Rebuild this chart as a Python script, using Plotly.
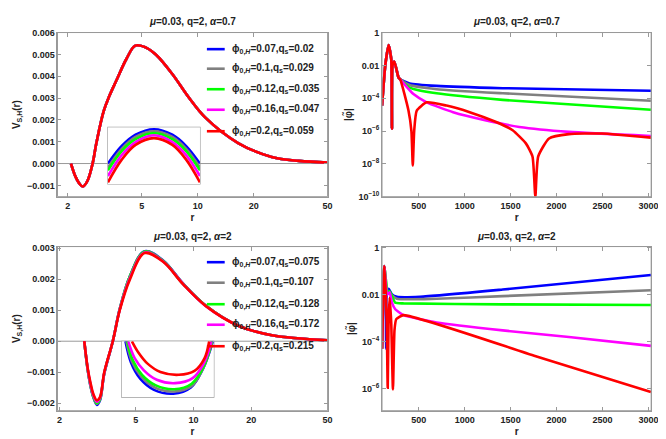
import numpy as np
import plotly.graph_objects as go

colors = ["#0000ff", "#808080", "#00ff00", "#ff00ff", "#ff0000"]
labels_top = ["ϕ<sub>0,<i>H</i></sub>=0.07,q<sub>s</sub>=0.02", "ϕ<sub>0,<i>H</i></sub>=0.1,q<sub>s</sub>=0.029",
              "ϕ<sub>0,<i>H</i></sub>=0.12,q<sub>s</sub>=0.035", "ϕ<sub>0,<i>H</i></sub>=0.16,q<sub>s</sub>=0.047",
              "ϕ<sub>0,<i>H</i></sub>=0.2,q<sub>s</sub>=0.059"]
labels_bot = ["ϕ<sub>0,<i>H</i></sub>=0.07,q<sub>s</sub>=0.075", "ϕ<sub>0,<i>H</i></sub>=0.1,q<sub>s</sub>=0.107",
              "ϕ<sub>0,<i>H</i></sub>=0.12,q<sub>s</sub>=0.128", "ϕ<sub>0,<i>H</i></sub>=0.16,q<sub>s</sub>=0.172",
              "ϕ<sub>0,<i>H</i></sub>=0.2,q<sub>s</sub>=0.215"]

# top-left potential (all five nearly identical)
r_tl = [2.08, 2.2, 2.3, 2.41, 2.55, 2.72, 2.85, 3.12, 3.35, 3.65, 4.14, 4.62, 5.3, 5.97, 7.3, 9.0, 11.0, 16.5, 25, 35, 50]
v_tl = [0, -0.0006, -0.0009, -0.00105, -0.0008, 0, 0.00094, 0.0024, 0.0031, 0.0038, 0.0048, 0.0054, 0.0053,
        0.00498, 0.0041, 0.0030, 0.0021, 0.00094, 0.0003, 0.00012, 0.00005]
# top-left inset (zoomed arches, normalised box units)
ins_tl_x = [0, 0.15, 0.3, 0.5, 0.7, 0.85, 1.0]
ins_tl_y = [
    [0.36, 0.67, 0.87, 0.966, 0.87, 0.67, 0.36],
    [0.29, 0.62, 0.83, 0.93, 0.83, 0.62, 0.29],
    [0.24, 0.58, 0.79, 0.90, 0.79, 0.58, 0.24],
    [0.14, 0.51, 0.74, 0.86, 0.74, 0.51, 0.14],
    [0.03, 0.43, 0.69, 0.81, 0.69, 0.43, 0.03],
]

# bottom-left potential
r_bl = [2.69, 2.8, 2.89, 3.0, 3.13, 3.25, 3.42, 3.79, 4.12, 4.66, 5.55, 6.94, 8.8, 11.6, 17.1, 25.6, 50]
v_bl = [
    [0, -0.0009, -0.0014, -0.0018, -0.00205, -0.0019, -0.00105, 0, 0.00104, 0.0021, 0.0029, 0.0026, 0.00186, 0.00114, 0.0005, 0.00019, 0.00003],
    [0, -0.0009, -0.0014, -0.0018, -0.00202, -0.00188, -0.00104, 0, 0.00104, 0.0021, 0.00289, 0.00259, 0.00186, 0.00114, 0.0005, 0.00019, 0.00003],
    [0, -0.0009, -0.00138, -0.00178, -0.002, -0.00186, -0.00103, 0, 0.00103, 0.0021, 0.00288, 0.00258, 0.00185, 0.00114, 0.0005, 0.00019, 0.00003],
    [0, -0.00087, -0.00135, -0.00174, -0.00195, -0.00183, -0.00102, 0, 0.00102, 0.00205, 0.00286, 0.00257, 0.00185, 0.00113, 0.0005, 0.00019, 0.00003],
    [0, -0.00085, -0.0013, -0.0017, -0.0019, -0.0018, -0.001, 0, 0.001, 0.0020, 0.00284, 0.00256, 0.00184, 0.00113, 0.0005, 0.00019, 0.00003],
]
ins_bl = [
    ([0.04, 0.1, 0.2, 0.35, 0.56, 0.75, 0.88, 0.99], [1, 0.62, 0.33, 0.13, 0.06, 0.17, 0.5, 1]),
    ([0.05, 0.11, 0.21, 0.36, 0.57, 0.76, 0.885, 0.985], [1, 0.64, 0.37, 0.17, 0.10, 0.2, 0.52, 1]),
    ([0.06, 0.12, 0.22, 0.37, 0.57, 0.76, 0.89, 0.98], [1, 0.66, 0.4, 0.21, 0.14, 0.24, 0.55, 1]),
    ([0.07, 0.14, 0.24, 0.38, 0.58, 0.77, 0.89, 0.975], [1, 0.7, 0.48, 0.31, 0.25, 0.34, 0.6, 1]),
    ([0.11, 0.18, 0.28, 0.42, 0.62, 0.79, 0.9, 0.95], [1, 0.8, 0.6, 0.45, 0.4, 0.47, 0.7, 1]),
]

# top-right |phi| (log10 values)
head_r = [100, 136, 172, 200, 208, 214, 234, 280, 298]
head_l = [-4.45, -1.96, -0.76, -1.6, -5.85, -2.0, -1.76, -2.75, -2.85]
tr_tails = [
    ([400, 694, 1414, 3027], [-3.1, -3.25, -3.39, -3.55]),
    ([400, 694, 1414, 3027], [-3.2, -3.45, -3.7, -4.15]),
    ([400, 694, 1414, 3027], [-3.35, -3.7, -4.1, -4.7]),
    ([442, 586, 874, 1234, 1594, 2134, 3027], [-3.75, -4.25, -4.85, -5.35, -5.75, -6.05, -6.3]),
    ([388, 420, 435, 450, 478, 586, 802, 1054, 1342, 1522, 1666, 1738, 1769, 1800, 1918, 2134, 2494, 3027],
     [-4.75, -6.0, -8.1, -6.0, -4.75, -4.25, -4.45, -4.85, -5.45, -5.95, -6.75, -7.55, -10, -7.55, -6.45, -6.19, -6.15, -6.4]),
]

# bottom-right |phi| (log10 values)
br_data = [
    ([100, 126, 140, 145, 150, 172, 208, 262, 514, 1414, 3027], [-4.3, -0.78, -2.0, -4.3, -2.0, -1.75, -1.99, -2.09, -2.09, -1.78, -1.16]),
    ([100, 126, 160, 183, 262, 694, 1414, 3027], [-4.3, -0.78, -1.9, -1.95, -2.17, -2.17, -2.06, -1.81]),
    ([100, 126, 160, 183, 244, 334, 1414, 3027], [-4.3, -0.78, -1.9, -1.85, -2.34, -2.37, -2.41, -2.44]),
    ([100, 126, 155, 183, 208, 244, 334, 694, 1414, 2134, 3027], [-4.3, -0.78, -2.0, -1.9, -2.34, -2.62, -2.87, -3.18, -3.52, -3.8, -4.18]),
    ([100, 126, 150, 162, 172, 183, 200, 219, 236, 255, 334, 1774, 3027], [-4.3, -0.78, -3.0, -5.96, -3.0, -2.13, -3.2, -6.03, -3.5, -3.04, -2.87, -4.62, -6.14]),
]

fig = go.Figure()
LW = 2.6
sp = dict(shape="spline", smoothing=0.5)
for i, c in enumerate(colors):
    fig.add_trace(go.Scatter(x=r_tl, y=v_tl, mode="lines", line=dict(color=c, width=LW, shape="spline"), xaxis="x", yaxis="y"))
    fig.add_trace(go.Scatter(x=head_r + tr_tails[i][0], y=np.power(10.0, head_l + tr_tails[i][1]), mode="lines",
                             line=dict(color=c, width=LW, **sp), xaxis="x2", yaxis="y2"))
    fig.add_trace(go.Scatter(x=r_bl, y=v_bl[i], mode="lines", line=dict(color=c, width=LW, shape="spline"), xaxis="x3", yaxis="y3"))
    fig.add_trace(go.Scatter(x=br_data[i][0], y=np.power(10.0, br_data[i][1]), mode="lines",
                             line=dict(color=c, width=LW, **sp), xaxis="x4", yaxis="y4"))
    fig.add_trace(go.Scatter(x=ins_tl_x, y=ins_tl_y[i], mode="lines", line=dict(color=c, width=LW, shape="spline"), xaxis="x5", yaxis="y5"))
    fig.add_trace(go.Scatter(x=ins_bl[i][0], y=ins_bl[i][1], mode="lines", line=dict(color=c, width=LW, shape="spline"), xaxis="x6", yaxis="y6"))

W, H = 666, 439
def dx(a, b): return [a / W, b / W]
def dy(top, bot): return [1 - bot / H, 1 - top / H]

frame = dict(showline=True, mirror="ticks", linecolor="#999", linewidth=1, ticks="inside", ticklen=4,
             tickcolor="#999", showgrid=False, zeroline=False,
             tickfont=dict(family="Liberation Sans", size=9, color="#222", weight="bold"))
tfont = dict(family="Liberation Sans", size=10, color="#222", weight="bold")
lo = [np.log10(1.76), np.log10(50)]
lo3 = [np.log10(1.95), np.log10(50)]
fig.update_layout(
    width=W, height=H, margin=dict(l=0, r=0, t=0, b=0), showlegend=False,
    plot_bgcolor="white", paper_bgcolor="white", font=dict(family="Liberation Sans", color="#222"),
    xaxis=dict(frame, domain=dx(50, 323), type="log", range=lo, tickvals=[2, 5, 10, 20, 50], anchor="y",
               title=dict(text="r", font=tfont, standoff=4)),
    yaxis=dict(frame, domain=dy(20, 188), range=[-0.00152, 0.006], tickformat=".3f", dtick=0.001, anchor="x",
               title=dict(text="V<sub>S,H</sub>(r)", font=tfont, standoff=4)),
    xaxis2=dict(frame, domain=dx(378, 650), range=[100, 3030], tickvals=[500, 1000, 1500, 2000, 2500, 3000], anchor="y2",
                title=dict(text="r", font=tfont, standoff=4)),
    yaxis2=dict(frame, domain=dy(20, 188), type="log", range=[-10, 0], anchor="x2",
                tickvals=[1, 0.01, 1e-4, 1e-6, 1e-8, 1e-10],
                ticktext=["1", "0.01", "10<sup>−4</sup>", "10<sup>−6</sup>", "10<sup>−8</sup>", "10<sup>−10</sup>"],
                title=dict(text="|φ̃|", font=tfont, standoff=4)),
    xaxis3=dict(frame, domain=dx(50, 323), type="log", range=lo3, tickvals=[2, 5, 10, 20, 50], anchor="y3",
                title=dict(text="r", font=tfont, standoff=4)),
    yaxis3=dict(frame, domain=dy(239, 407), range=[-0.00224, 0.00305], tickformat=".3f", dtick=0.001, anchor="x3",
                title=dict(text="V<sub>S,H</sub>(r)", font=tfont, standoff=4)),
    xaxis4=dict(frame, domain=dx(378, 650), range=[100, 3030], tickvals=[500, 1000, 1500, 2000, 2500, 3000], anchor="y4",
                title=dict(text="r", font=tfont, standoff=4)),
    yaxis4=dict(frame, domain=dy(239, 407), type="log", range=[-6.94, 0.05], anchor="x4",
                tickvals=[1, 0.01, 1e-4, 1e-6], ticktext=["1", "0.01", "10<sup>−4</sup>", "10<sup>−6</sup>"],
                title=dict(text="|φ̃|", font=tfont, standoff=4)),
    xaxis5=dict(domain=dx(101, 194), range=[0, 1], visible=False, anchor="y5"),
    yaxis5=dict(domain=dy(117, 175), range=[0, 1], visible=False, anchor="x5"),
    xaxis6=dict(domain=dx(115, 208), range=[0, 1], visible=False, anchor="y6"),
    yaxis6=dict(domain=dy(336, 393), range=[0, 1], visible=False, anchor="x6"),
)

shapes = [
    dict(type="line", xref="x domain", yref="y", x0=0, x1=1, y0=0, y1=0, line=dict(color="#999", width=1), layer="below"),
    dict(type="line", xref="x3 domain", yref="y3", x0=0, x1=1, y0=0, y1=0, line=dict(color="#999", width=1), layer="below"),
    dict(type="rect", xref="paper", yref="paper", x0=101 / W, x1=194 / W, y0=1 - 175 / H, y1=1 - 117 / H,
         line=dict(color="#999", width=1.2), fillcolor="white", layer="below"),
    dict(type="rect", xref="paper", yref="paper", x0=115 / W, x1=208 / W, y0=1 - 393 / H, y1=1 - 336 / H,
         line=dict(color="#999", width=1.2), fillcolor="white", layer="below"),
]
for ax in ["x", "x2", "x3", "x4"]:
    ya = ax.replace("x", "y")
    shapes.append(dict(type="rect", xref=ax + " domain", yref=ya + " domain", x0=0, x1=1, y0=0, y1=1,
                       line=dict(color="#999", width=1)))
ann = []
titles = [("μ=0.03, q=2, α=0.7", 186, 9), ("μ=0.03, q=2, α=0.7", 514, 9),
          ("μ=0.03, q=2, α=2", 186, 229), ("μ=0.03, q=2, α=2", 514, 229)]
for t, xp, yp in titles:
    ann.append(dict(text="<b>" + t.replace("μ", "<i>μ</i>").replace("α", "<i>α</i>") + "</b>", x=xp / W, y=1 - yp / H,
                    xref="paper", yref="paper", xanchor="center", yanchor="middle", showarrow=False,
                    font=dict(size=10, color="#222")))
for labels, rows in [(labels_top, [37, 57, 78, 99, 121]), (labels_bot, [255, 276, 298, 319, 341])]:
    for c, lab, yp in zip(colors, labels, rows):
        shapes.append(dict(type="line", xref="paper", yref="paper", x0=201 / W, x1=219 / W, y0=1 - yp / H, y1=1 - yp / H,
                           line=dict(color=c, width=2.6)))
        ann.append(dict(text="<b>" + lab + "</b>", x=224 / W, y=1 - yp / H, xref="paper", yref="paper",
                        xanchor="left", yanchor="middle", showarrow=False, font=dict(size=10, color="#222")))
fig.update_layout(shapes=shapes, annotations=ann)
fig.write_html("out.html")
